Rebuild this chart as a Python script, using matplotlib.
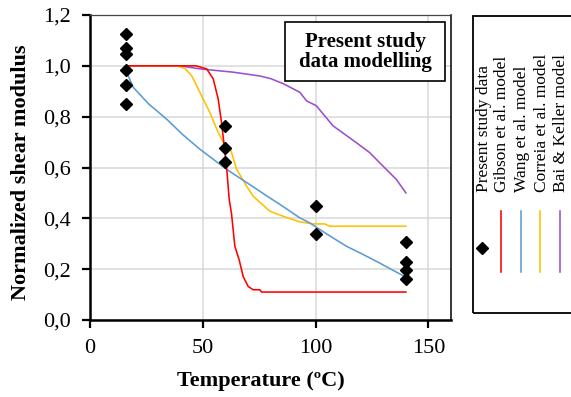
import matplotlib
matplotlib.use("Agg")
import matplotlib.pyplot as plt
from matplotlib.lines import Line2D
from matplotlib.patches import Rectangle

plt.rcParams['font.family'] = ['Liberation Serif', 'DejaVu Serif']

# ---- data ----
data_T = [16, 16, 16, 16, 16, 16, 60, 60, 60, 100, 100, 140, 140, 140, 140]
data_G = [1.125, 1.07, 1.045, 0.984, 0.926, 0.849, 0.763, 0.676, 0.621,
          0.448, 0.339, 0.306, 0.228, 0.196, 0.163]

gibson_T = [16, 47, 51.7, 54.6, 56.8, 58.3, 60.5, 61.7, 62.7, 64.2, 66.1,
            67.9, 70.1, 72.3, 75.3, 76, 140]
gibson_G = [1.0, 1.0, 0.988, 0.949, 0.87, 0.777, 0.606, 0.474, 0.42, 0.29,
            0.237, 0.171, 0.132, 0.119, 0.119, 0.11, 0.11]

wang_T = [16, 19.2, 26, 34, 41, 48.7, 60.5, 72.3, 78.2, 85, 93, 97.4, 105,
          113.7, 121, 128.4, 134, 139.5]
wang_G = [0.98, 0.915, 0.85, 0.79, 0.73, 0.672, 0.593, 0.524, 0.489, 0.45,
          0.402, 0.382, 0.338, 0.29, 0.258, 0.224, 0.197, 0.171]

correia_T = [16, 38.4, 42, 45, 48.7, 53.1, 56.8, 59, 62, 65, 69.4, 72.3,
             79.7, 85.6, 93, 98.9, 104, 106.3, 140]
correia_G = [1.0, 1.0, 0.99, 0.962, 0.896, 0.817, 0.738, 0.70, 0.68, 0.593,
             0.527, 0.487, 0.428, 0.408, 0.386, 0.378, 0.378, 0.369, 0.369]

bai_T = [16, 40, 48.7, 63.5, 75.3, 80, 85.6, 93, 96, 100.3, 107.7, 118,
         123.9, 129.8, 135.8, 140]
bai_G = [1.0, 1.0, 0.988, 0.975, 0.96, 0.95, 0.93, 0.896, 0.862, 0.843,
         0.764, 0.698, 0.659, 0.606, 0.553, 0.5]

x_ticks = [0, 50, 100, 150]
x_tick_labels = ["0", "50", "100", "150"]
y_ticks = [0.0, 0.2, 0.4, 0.6, 0.8, 1.0, 1.2]
y_tick_labels = ["0,0", "0,2", "0,4", "0,6", "0,8", "1,0", "1,2"]

legend_labels = ["Present study data", "Gibson et al. model", "Wang et al. model",
                 "Correia et al. model", "Bai & Keller model"]
c_red, c_blue, c_orange, c_purple = "#ff0000", "#5b9bd5", "#ffc000", "#9b4fd0"

# ---- figure ----
W, H = 571, 397
fig = plt.figure(figsize=(W / 100, H / 100), dpi=100)
ax = fig.add_axes([90 / W, 1 - 320 / H, (451 - 90) / W, (320 - 15) / H])

lw = 1.15
ax.plot(bai_T, bai_G, color=c_purple, lw=lw, zorder=3)
ax.plot(correia_T, correia_G, color=c_orange, lw=lw, zorder=3)
ax.plot(wang_T, wang_G, color=c_blue, lw=lw, zorder=3)
ax.plot(gibson_T, gibson_G, color=c_red, lw=lw, zorder=4)
ax.plot(data_T, data_G, linestyle='none', marker='D', markersize=6,
        color='black', zorder=5, clip_on=False)

ax.set_xlim(0, 160)
ax.set_ylim(0, 1.2)
ax.set_xticks(x_ticks)
ax.set_xticklabels(x_tick_labels)
ax.set_yticks(y_ticks)
ax.set_yticklabels(y_tick_labels)
ax.grid(True, color='#d9d9d9', lw=1.1, zorder=0)
ax.set_axisbelow(True)
ax.tick_params(axis='both', direction='out', length=6, width=1.6,
               labelsize=16, colors='black', pad=8)

for s in ['left', 'bottom']:
    ax.spines[s].set_linewidth(1.8)
    ax.spines[s].set_color('black')
ax.spines['right'].set_linewidth(1.1)
ax.spines['top'].set_linewidth(0.9)
ax.spines['top'].set_color('#444444')

# axis labels
fig.text(261 / W, 1 - 381 / H, "Temperature (ºC)", fontsize=16,
         fontweight='bold', ha='center', va='center')
fig.text(21 / W, 1 - 172 / H, "Normalized shear modulus", fontsize=16,
         fontweight='bold', ha='center', va='center', rotation=90)

# annotation box
ax.add_patch(Rectangle((0.540, 0.784), 0.983 - 0.540, 0.977 - 0.784,
                       transform=ax.transAxes, fill=True, facecolor='white',
                       edgecolor='black', lw=1.2, zorder=6))
ax.text(0.762, 0.880, "Present study\ndata modelling", transform=ax.transAxes,
        fontsize=15, fontweight='bold', ha='center', va='center',
        linespacing=1.0, zorder=7)

# rotated legend (drawn manually)
def fx(px):
    return px / W

def fy(py):
    return 1 - py / H

fig.patches.append(Rectangle((fx(472.7), fy(313.3)), 0.3, fy(15.7) - fy(313.3),
                             transform=fig.transFigure, fill=False,
                             edgecolor='black', lw=1.3))
handle_x = [482, 501, 520.5, 540, 559.5]
line_colors = [c_red, c_blue, c_orange, c_purple]
fig.add_artist(Line2D([fx(handle_x[0])], [fy(248)], marker='D', markersize=6,
                      color='black', linestyle='none', transform=fig.transFigure))
for hx, col in zip(handle_x[1:], line_colors):
    fig.add_artist(Line2D([fx(hx), fx(hx)], [fy(272), fy(211)], color=col,
                          lw=lw, transform=fig.transFigure))
for hx, lab in zip(handle_x, legend_labels):
    fig.text(fx(hx + 1.5), fy(192), lab, rotation=90, fontsize=12.5,
             ha='center', va='bottom')

fig.savefig("out.png", dpi=100)
